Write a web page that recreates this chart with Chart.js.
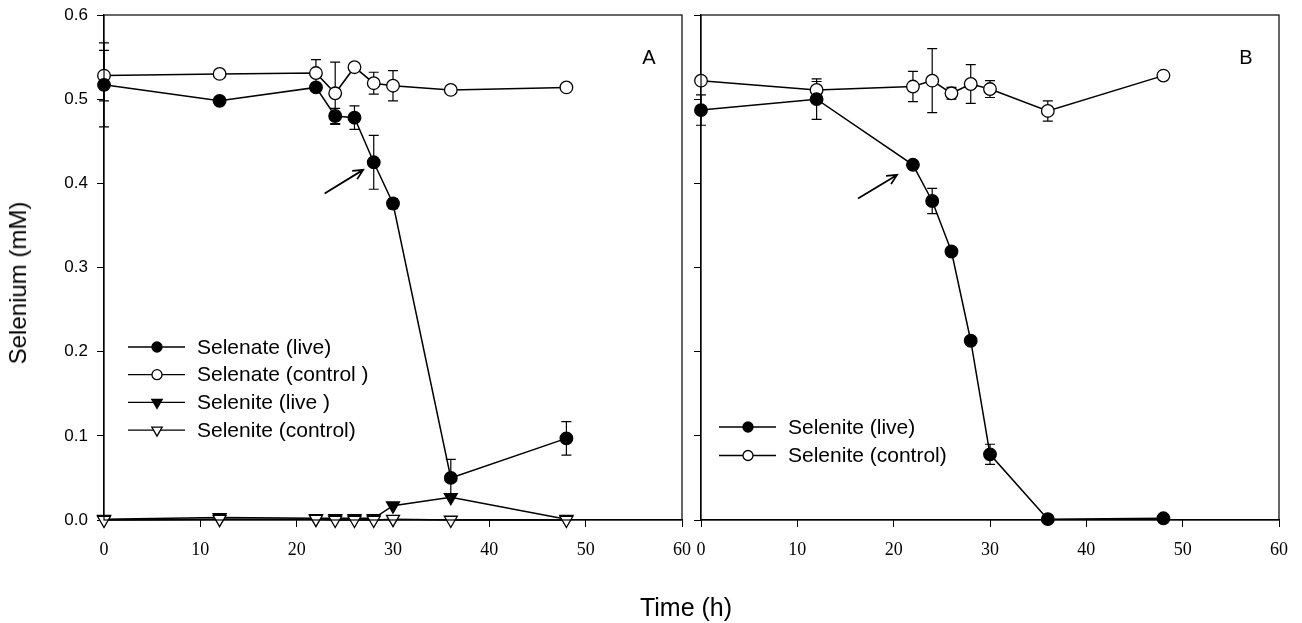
<!DOCTYPE html>
<html>
<head>
<meta charset="utf-8">
<script src="https://cdn.jsdelivr.net/npm/chart.js@4.4.1/dist/chart.umd.min.js"></script>
<style>
  html, body { margin: 0; padding: 0; background: #fff; }
  #wrap { position: relative; width: 1302px; height: 623px; overflow: hidden; }
  #wrap canvas { position: absolute; left: 0; top: 0; }
  .axtitle { position: absolute; font-family: "Liberation Sans", Arial, sans-serif; color: #000; white-space: nowrap; transform: translate(-50%, -50%); }
  #ytitle { left: 18px; top: 283px; font-size: 24px; transform: translate(-50%, -50%) rotate(-90deg); }
  #xtitle { left: 686px; top: 607px; font-size: 25px; }
</style>
</head>
<body>
<div id="wrap">
  <canvas id="chartA" width="1302" height="623"></canvas>
  <canvas id="chartB" width="1302" height="623"></canvas>
  <div class="axtitle" id="ytitle">Selenium (mM)</div>
  <div class="axtitle" id="xtitle">Time (h)</div>
</div>
<script>
// sampling times (h)
const timesA = [0, 12, 22, 24, 26, 28, 30, 36, 48];
const timesB = [0, 12, 22, 24, 26, 28, 30, 36, 48];

// panel A
const selenateLive       = [0.517, 0.498, 0.514, 0.480, 0.478, 0.425, 0.376, 0.050, 0.097];
const selenateLiveErr    = [0.050, 0.003, 0.004, 0.009, 0.014, 0.032, 0.006, 0.022, 0.020];
const selenateControl    = [0.528, 0.530, 0.531, 0.507, 0.538, 0.519, 0.516, 0.511, 0.514];
const selenateControlErr = [0.030, 0.002, 0.016, 0.037, 0.003, 0.013, 0.018, 0.002, 0.002];
const seleniteLiveA      = [0.001, 0.003, 0.002, 0.002, 0.002, 0.002, 0.017, 0.027, 0.001];
const seleniteControlA   = [0.000, 0.001, 0.001, 0.000, 0.000, 0.000, 0.001, 0.000, 0.000];

// panel B
const seleniteLiveB       = [0.487, 0.500, 0.422, 0.379, 0.319, 0.213, 0.078, 0.001, 0.002];
const seleniteLiveBErr    = [0.018, 0.024, 0.004, 0.015, 0.004, 0.004, 0.012, 0.000, 0.000];
const seleniteControlB    = [0.522, 0.511, 0.515, 0.522, 0.507, 0.518, 0.512, 0.486, 0.528];
const seleniteControlBErr = [0.003, 0.010, 0.018, 0.038, 0.007, 0.023, 0.010, 0.012, 0.000];

const xTicks = [0, 10, 20, 30, 40, 50, 60];
const yTicks = [0, 0.1, 0.2, 0.3, 0.4, 0.5, 0.6];

// arrow annotations, in data units [t0, v0, t1, v1]
const arrowA = [22.9, 0.388, 26.9, 0.416];
const arrowB = [16.3, 0.382, 20.35, 0.410];

const SANS = '"Liberation Sans", Arial, sans-serif';
const SERIF = '"Liberation Serif", "Times New Roman", serif';

function pts(xs, ys){ return xs.map((x, i) => ({ x: x, y: ys[i] })); }

function series(label, xs, ys, errs, style, filled, order){
  return {
    label: label,
    data: pts(xs, ys),
    errors: errs || null,
    order: order,
    clip: false,
    borderColor: '#000',
    borderWidth: 1.5,
    pointStyle: style,
    pointRotation: style === 'triangle' ? 180 : 0,
    pointRadius: style === 'triangle' ? 7.5 : 6.3,
    pointBorderWidth: 1.3,
    pointBorderColor: '#000',
    pointBackgroundColor: filled ? '#000' : '#fff',
    tension: 0,
    fill: false
  };
}

// error bars, box, panel letter, arrow and legend
const extras = {
  id: 'extras',
  beforeDatasetsDraw(chart){
    const ctx = chart.ctx, xs = chart.scales.x, ys = chart.scales.y;
    ctx.save();
    ctx.strokeStyle = '#000';
    ctx.lineWidth = 1.2;
    chart.data.datasets.forEach(ds => {
      if(!ds.errors) return;
      ds.data.forEach((p, i) => {
        const e = ds.errors[i];
        if(!e) return;
        const x = xs.getPixelForValue(p.x);
        const y1 = ys.getPixelForValue(p.y + e);
        const y2 = ys.getPixelForValue(p.y - e);
        ctx.beginPath();
        ctx.moveTo(x, y1); ctx.lineTo(x, y2);
        ctx.moveTo(x - 5, y1); ctx.lineTo(x + 5, y1);
        ctx.moveTo(x - 5, y2); ctx.lineTo(x + 5, y2);
        ctx.stroke();
      });
    });
    ctx.restore();
  },
  afterDraw(chart, args, opts){
    const ctx = chart.ctx, a = chart.chartArea, xs = chart.scales.x, ys = chart.scales.y;
    ctx.save();
    ctx.strokeStyle = '#000';
    ctx.fillStyle = '#000';
    ctx.lineWidth = 1.2;
    ctx.strokeRect(a.left, a.top, a.right - a.left, a.bottom - a.top);

    // panel letter
    ctx.font = '20px ' + SANS;
    ctx.textAlign = 'center';
    ctx.textBaseline = 'middle';
    ctx.fillText(opts.letter, a.right - 33, a.top + 43);

    // arrow
    const ar = opts.arrow;
    const x0 = xs.getPixelForValue(ar[0]), y0 = ys.getPixelForValue(ar[1]);
    const x1 = xs.getPixelForValue(ar[2]), y1 = ys.getPixelForValue(ar[3]);
    const ang = Math.atan2(y1 - y0, x1 - x0);
    ctx.lineWidth = 1.8;
    ctx.beginPath();
    ctx.moveTo(x0, y0); ctx.lineTo(x1, y1);
    ctx.moveTo(x1 - 11 * Math.cos(ang - 0.45), y1 - 11 * Math.sin(ang - 0.45));
    ctx.lineTo(x1, y1);
    ctx.lineTo(x1 - 11 * Math.cos(ang + 0.45), y1 - 11 * Math.sin(ang + 0.45));
    ctx.stroke();

    // legend
    const lg = opts.legend;
    ctx.font = '21px ' + SANS;
    ctx.textAlign = 'left';
    chart.data.datasets.forEach((ds, i) => {
      const y = lg.y + i * lg.gap;
      ctx.lineWidth = 1.3;
      ctx.strokeStyle = '#000';
      ctx.beginPath();
      ctx.moveTo(lg.x, y); ctx.lineTo(lg.x + 57, y);
      ctx.stroke();
      ctx.fillStyle = ds.pointBackgroundColor;
      Chart.helpers.drawPoint(ctx, {
        pointStyle: ds.pointStyle,
        rotation: ds.pointRotation,
        radius: ds.pointStyle === 'triangle' ? 6 : 5,
        borderWidth: 1.1
      }, lg.x + 29, y);
      ctx.fillStyle = '#000';
      ctx.fillText(ds.label, lg.x + 69, y + 1);
    });
    ctx.restore();
  }
};

function makeOptions(cfg){
  return {
    responsive: false,
    animation: false,
    events: [],
    layout: { padding: { left: cfg.padLeft, right: cfg.padRight, top: 15, bottom: 58 } },
    plugins: {
      legend: { display: false },
      tooltip: { enabled: false },
      extras: { letter: cfg.letter, arrow: cfg.arrow, legend: cfg.legend }
    },
    scales: {
      x: {
        type: 'linear', min: 0, max: 60,
        afterBuildTicks: s => { s.ticks = xTicks.map(v => ({ value: v })); },
        afterFit: s => { s.height = 45; s.paddingLeft = 0; s.paddingRight = 0; },
        ticks: { color: '#000', font: { family: SERIF, size: 18 }, padding: 12, maxRotation: 0 },
        grid: { drawOnChartArea: false, drawTicks: true, tickLength: 7, color: '#000', lineWidth: 1 },
        border: { display: true, color: '#000', width: 1.2 }
      },
      y: {
        type: 'linear', min: 0, max: 0.6,
        afterBuildTicks: s => { s.ticks = yTicks.map(v => ({ value: v })); },
        afterFit: s => { s.width = cfg.yWidth; s.paddingTop = 0; s.paddingBottom = 0; },
        ticks: {
          display: cfg.yLabels,
          color: '#000', font: { family: SANS, size: 17 }, padding: 9,
          callback: v => Number(v).toFixed(1)
        },
        grid: { drawOnChartArea: false, drawTicks: true, tickLength: 7, color: '#000', lineWidth: 1 },
        border: { display: true, color: '#000', width: 1.2 }
      }
    }
  };
}

new Chart(document.getElementById('chartA'), {
  type: 'line',
  data: {
    datasets: [
      series('Selenate (live)', timesA, selenateLive, selenateLiveErr, 'circle', true, 1),
      series('Selenate (control )', timesA, selenateControl, selenateControlErr, 'circle', false, 2),
      series('Selenite (live )', timesA, seleniteLiveA, null, 'triangle', true, 3),
      series('Selenite (control)', timesA, seleniteControlA, null, 'triangle', false, 0)
    ]
  },
  options: makeOptions({
    padLeft: 0, padRight: 620, yWidth: 104, yLabels: true,
    letter: 'A', arrow: arrowA, legend: { x: 128, y: 347, gap: 27.7 }
  }),
  plugins: [extras]
});

new Chart(document.getElementById('chartB'), {
  type: 'line',
  data: {
    datasets: [
      series('Selenite (live)', timesB, seleniteLiveB, seleniteLiveBErr, 'circle', true, 1),
      series('Selenite (control)', timesB, seleniteControlB, seleniteControlBErr, 'circle', false, 2)
    ]
  },
  options: makeOptions({
    padLeft: 691, padRight: 23, yWidth: 10, yLabels: false,
    letter: 'B', arrow: arrowB, legend: { x: 719, y: 427, gap: 28.5 }
  }),
  plugins: [extras]
});
</script>
</body>
</html>
